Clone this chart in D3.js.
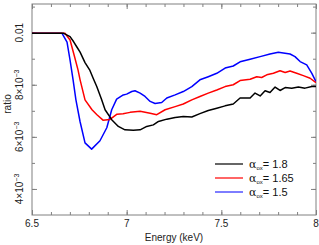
<!DOCTYPE html>
<html><head><meta charset="utf-8">
<script src="https://cdn.jsdelivr.net/npm/d3@7/dist/d3.min.js"></script>
<style>body{margin:0;background:#fff;}svg{display:block;font-family:"Liberation Sans",Arial,sans-serif;}</style>
</head><body>
<svg id="c" width="319" height="245"></svg>
<script>
const xTicks = [6.5, 7, 7.5, 8];
const xTickLabels = ["6.5", "7", "7.5", "8"];
const yTicks = [0.004, 0.006, 0.008, 0.01];
const yTickLabels = [["4","−3"], ["6","−3"], ["8","−3"], ["0.01",null]];
const seriesNames = ["1.8", "1.65", "1.5"];
const seriesColors = ["#000000", "#ff0000", "#0000ff"];

const blackE = [6.5,6.665,6.701,6.72,6.737,6.754,6.78,6.806,6.823,6.842,6.868,6.886,6.921,6.956,6.991,7.035,7.071,7.106,7.141,7.168,7.212,7.256,7.299,7.344,7.387,7.431,7.476,7.52,7.563,7.599,7.652,7.678,7.705,7.731,7.757,7.784,7.81,7.837,7.872,7.907,7.942,7.978,8.0];
const blackV = [0.00998,0.00998,0.00985,0.00965,0.00945,0.00925,0.00885,0.00855,0.00825,0.00793,0.00742,0.00704,0.00666,0.0064,0.00627,0.00625,0.00627,0.0064,0.00646,0.00659,0.00668,0.00674,0.00678,0.00676,0.00689,0.00701,0.0071,0.00719,0.00726,0.00749,0.00749,0.00768,0.00757,0.00777,0.0077,0.00791,0.00778,0.00789,0.00787,0.00791,0.00787,0.00793,0.00793];

const redE = [6.5,6.674,6.701,6.722,6.743,6.754,6.78,6.817,6.843,6.875,6.912,6.949,6.981,7.018,7.071,7.124,7.159,7.203,7.256,7.299,7.344,7.387,7.431,7.476,7.52,7.563,7.599,7.652,7.687,7.713,7.74,7.775,7.81,7.837,7.863,7.898,7.933,7.969,8.0];
const redV = [0.00998,0.00998,0.00972,0.00915,0.00857,0.00819,0.00742,0.00704,0.00685,0.00664,0.00667,0.00687,0.00689,0.00694,0.00698,0.00691,0.00685,0.00704,0.00716,0.00726,0.00742,0.00755,0.00768,0.0078,0.00793,0.008,0.00816,0.00821,0.00831,0.00828,0.00838,0.00844,0.00854,0.00847,0.00853,0.00844,0.00835,0.00825,0.00808];

const blueE = [6.5,6.658,6.685,6.701,6.717,6.732,6.754,6.78,6.815,6.859,6.895,6.921,6.947,6.982,7.0,7.027,7.044,7.071,7.097,7.124,7.15,7.185,7.212,7.256,7.299,7.344,7.387,7.431,7.476,7.52,7.563,7.599,7.652,7.705,7.757,7.801,7.863,7.889,7.916,7.951,7.978,8.0];
const blueV = [0.00998,0.00998,0.00964,0.00895,0.00819,0.00742,0.00658,0.00577,0.00553,0.00585,0.00635,0.00704,0.00745,0.00761,0.00764,0.00774,0.00777,0.00768,0.00755,0.00736,0.00728,0.00732,0.00749,0.00761,0.00774,0.00793,0.00819,0.00831,0.00844,0.00864,0.00872,0.00888,0.00898,0.00908,0.00918,0.00925,0.00918,0.00908,0.00889,0.00876,0.00844,0.00812];

const svg = d3.select("#c");
const L = 32, R = 316, T = 4, B = 215;
const x = d3.scaleLinear().domain([6.5, 8]).range([L, R]);
const y = d3.scaleLinear().domain([0.003, 0.0111]).range([B, T]);
const axisColor = "#808080";

const xMinor = d3.range(6.5, 8.0001, 0.1).map(v => +v.toFixed(2));
const yMinor = d3.range(0.004, 0.0111, 0.001).map(v => +v.toFixed(4));

// clip
svg.append("defs").append("clipPath").attr("id","clip")
  .append("rect").attr("x",L).attr("y",T).attr("width",R-L).attr("height",B-T);

function tickAxis(axis, g, size) {
  g.call(axis.tickSize(size).tickFormat(""));
  g.select(".domain").remove();
  g.selectAll("line").attr("stroke", axisColor).attr("stroke-width", 1);
}
// bottom/top x ticks (inward)
tickAxis(d3.axisBottom(x).tickValues(xMinor), svg.append("g").attr("transform",`translate(0,${B})`), -3);
tickAxis(d3.axisBottom(x).tickValues(xTicks), svg.append("g").attr("transform",`translate(0,${B})`), -5);
tickAxis(d3.axisTop(x).tickValues(xMinor), svg.append("g").attr("transform",`translate(0,${T})`), -3);
tickAxis(d3.axisTop(x).tickValues(xTicks), svg.append("g").attr("transform",`translate(0,${T})`), -5);
tickAxis(d3.axisLeft(y).tickValues(yMinor), svg.append("g").attr("transform",`translate(${L},0)`), -3);
tickAxis(d3.axisLeft(y).tickValues(yTicks), svg.append("g").attr("transform",`translate(${L},0)`), -5);
tickAxis(d3.axisRight(y).tickValues(yMinor), svg.append("g").attr("transform",`translate(${R},0)`), -3);
tickAxis(d3.axisRight(y).tickValues(yTicks), svg.append("g").attr("transform",`translate(${R},0)`), -5);

svg.append("rect").attr("x",L).attr("y",T).attr("width",R-L).attr("height",B-T)
  .attr("fill","none").attr("stroke",axisColor).attr("stroke-width",1);

// x tick labels
svg.append("g").selectAll("text").data(xTicks).join("text")
  .attr("x", d => x(d)).attr("y", 227).attr("text-anchor","middle")
  .attr("font-size", 10).attr("fill","#222").text((d,i) => xTickLabels[i]);

// y tick labels rotated
const yl = svg.append("g").selectAll("text").data(yTicks).join("text")
  .attr("transform", d => `translate(23,${y(d)}) rotate(-90)`)
  .attr("text-anchor","middle").attr("font-size",10).attr("fill","#222");
yl.each(function(d,i){
  const t = d3.select(this), lab = yTickLabels[i];
  if (lab[1] === null) { t.text(lab[0]); }
  else {
    t.append("tspan").text(lab[0] + "×10");
    t.append("tspan").attr("dy",-4).attr("font-size",7).text(lab[1]);
  }
});

// axis titles
svg.append("text").attr("x", 174).attr("y", 241).attr("text-anchor","middle")
  .attr("font-size",10).attr("fill","#222").text("Energy (keV)");
svg.append("text").attr("transform","translate(11,104) rotate(-90)").attr("text-anchor","middle")
  .attr("font-size",10).attr("fill","#222").text("ratio");

// lines
const seriesData = [
  blackE.map((e,i)=>[e, blackV[i]]),
  redE.map((e,i)=>[e, redV[i]]),
  blueE.map((e,i)=>[e, blueV[i]])
];
const line = d3.line().x(d => x(d[0])).y(d => y(d[1]));
const order = [2,1,0];
svg.append("g").attr("clip-path","url(#clip)").selectAll("path").data(order).join("path")
  .attr("d", i => line(seriesData[i])).attr("fill","none")
  .attr("stroke", i => seriesColors[i]).attr("stroke-width",1.5).attr("stroke-linejoin","round");

// legend
const legY = [164, 178, 192];
const lg = svg.append("g");
seriesNames.forEach((n,i) => {
  lg.append("line").attr("x1",215).attr("x2",243).attr("y1",legY[i]).attr("y2",legY[i])
    .attr("stroke", i === 2 ? "#6f6fff" : seriesColors[i]).attr("stroke-width", i===2 ? 1.8 : 1.2);
  const t = lg.append("text").attr("x",249).attr("y",legY[i]+4).attr("font-size",11).attr("fill","#111");
  t.append("tspan").attr("font-family","DejaVu Serif, serif").attr("font-size",11).text("α");
  t.append("tspan").attr("dy",2).attr("font-size",6).text("ox");
  t.append("tspan").attr("dy",-2).text("= " + n);
});
</script>
</body></html>
